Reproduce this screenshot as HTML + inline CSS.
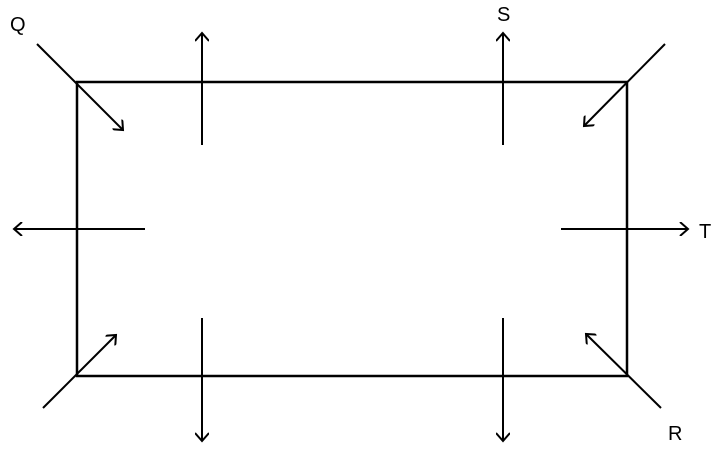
<!DOCTYPE html>
<html><head><style>body{margin:0;background:#fff}</style></head><body>
<svg width="721" height="452" xmlns="http://www.w3.org/2000/svg">
<defs><marker id="a" markerWidth="14" markerHeight="14" refX="11" refY="7" orient="auto" markerUnits="userSpaceOnUse">
<path d="M3,0 L11,7 L3,14" fill="none" stroke="#000" stroke-width="2"/></marker></defs>
<rect x="77" y="82" width="550" height="294" fill="none" stroke="#000" stroke-width="2.5"/>
<g stroke="#000" stroke-width="2" marker-end="url(#a)">
<line x1="37" y1="44" x2="123" y2="130"/>
<line x1="202" y1="145" x2="202" y2="33"/>
<line x1="503" y1="145" x2="503" y2="33"/>
<line x1="665" y1="44" x2="584" y2="126"/>
<line x1="145" y1="229" x2="14" y2="229"/>
<line x1="561" y1="229" x2="688" y2="229"/>
<line x1="43" y1="408" x2="116" y2="335"/>
<line x1="202" y1="318" x2="202" y2="441"/>
<line x1="503" y1="318" x2="503" y2="441"/>
<line x1="661" y1="408" x2="586" y2="334"/>
</g>
<g font-family="Liberation Sans, sans-serif" font-size="20" fill="#000">
<text x="10" y="31">Q</text>
<text x="497" y="21">S</text>
<text x="699" y="238">T</text>
<text x="668" y="440">R</text>
</g>
</svg>
</body></html>
